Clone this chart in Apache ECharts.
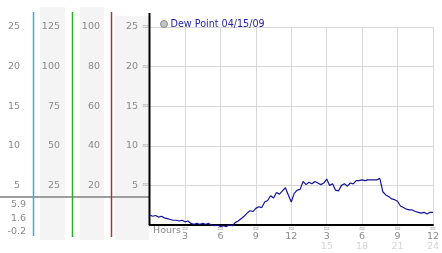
<!DOCTYPE html>
<html><head><meta charset="utf-8">
<script src="https://cdn.jsdelivr.net/npm/echarts@6/dist/echarts.min.js"></script>
<style>html,body{margin:0;padding:0;background:#fff}#c{width:442px;height:253px}</style>
</head><body><div id="c"></div>
<script>
// ---- data ----
const seriesName = 'Dew Point 04/15/09';
const stepHours = 0.25; // one reading every 15 minutes, 00:00 .. 24:00
const dewPoint = [
 1.3,1.1,1.2,1.0,1.1,0.9,0.8,0.7,0.6,0.6,0.5,0.6,
 0.4,0.5,0.2,0.1,0.2,0.1,0.2,0.1,0.2,0.0,-0.1,0.0,
 -0.2,-0.1,-0.2,0.0,-0.1,0.3,0.5,0.8,1.1,1.5,1.8,1.7,
 2.1,2.3,2.2,2.9,3.1,3.7,3.4,4.1,3.9,4.3,4.7,3.8,
 2.9,4.0,4.4,4.5,5.5,5.1,5.4,5.2,5.5,5.3,5.1,5.3,
 5.8,5.0,5.2,4.4,4.3,5.0,5.2,4.9,5.3,5.2,5.6,5.6,
 5.7,5.6,5.7,5.7,5.7,5.7,5.9,4.2,3.8,3.6,3.3,3.2,
 3.0,2.4,2.2,2.0,1.9,1.9,1.7,1.6,1.5,1.6,1.4,1.6,1.6
];
const scaleCol1 = {max:25, step:5};   // left column (same units)
const scaleCol2 = {max:125, step:25};
const scaleCol3 = {max:100, step:20};
const scaleMain = {max:25, step:5};
const stats = ['5.9','1.6','-0.2']; // max, current, min
const xTitle = 'Hours';

// ---- chart ----
const FONT = 'DejaVu Sans';
const LBL = '#8a8a8a';
const MARK = '#a0a0a0';
const chart = echarts.init(document.getElementById('c'), null, {renderer:'canvas'});
const points = dewPoint.map((v,i)=>[i*stepHours, v]);

const gridLeft = 149.6, gridTop = 27, gridBottom = 28, gridRight = 3.6;
const axisX = gridLeft;
function sideAxis(scale, labelRight){
  return {
    type:'value', position:'left', min:0, max:scale.max, interval:scale.step,
    offset: axisX - labelRight, axisLine:{show:false}, axisTick:{show:false},
    splitLine:{show:false},
    axisLabel:{margin:0, color:LBL, fontFamily:FONT, fontSize:9.5,
      formatter:v=> v===0 ? '' : String(v)}
  };
}

chart.setOption({
  animation:false,
  backgroundColor:'#fff',
  legend:{
    data:[seriesName], left:155, top:14, icon:'circle', itemWidth:7, itemHeight:7, itemGap:2,
    itemStyle:{color:'#c4c4c4', borderColor:'#8a8a8a', borderWidth:1},
    textStyle:{color:'#2424a8', fontFamily:FONT, fontSize:9.6, padding:[0,0,0,-2]}
  },
  grid:{left:gridLeft, right:gridRight, top:gridTop, bottom:gridBottom, containLabel:false},
  xAxis:{
    type:'value', min:0, max:24, interval:3,
    axisLine:{show:true, lineStyle:{color:'#000', width:2}},
    axisTick:{show:false},
    splitLine:{show:true, lineStyle:{color:'#d8d8d8', width:1}},
    axisLabel:{
      margin:1, fontFamily:FONT,
      showMinLabel:false,
      formatter:v=>{
        if(v===0) return '';
        if(v<=12) return '{m|≈}\n{v|'+v+'}';
        return '{m|≈}\n{v|'+(v-12)+'}\n{s|'+v+'}';
      },
      rich:{
        m:{fontSize:8, color:MARK, lineHeight:6, fontFamily:FONT},
        v:{fontSize:9.5, color:LBL, lineHeight:10, fontFamily:FONT},
        s:{fontSize:9.5, color:'#d4d4d4', lineHeight:10, fontFamily:FONT}
      }
    }
  },
  yAxis:[
    {
      type:'value', min:0, max:scaleMain.max, interval:scaleMain.step,
      axisLine:{show:false}, axisTick:{show:false},
      splitLine:{show:true, lineStyle:{color:'#d8d8d8', width:1}},
      axisLabel:{margin:1, fontFamily:FONT,
        formatter:v=> v===0 ? '' : '{v|'+v+'} {m|≈}',
        rich:{ v:{fontSize:9.5, color:LBL, fontFamily:FONT}, m:{fontSize:8, color:MARK, fontFamily:FONT} }
      }
    },
    sideAxis(scaleCol3, 100),
    sideAxis(scaleCol2, 60),
    sideAxis(scaleCol1, 20)
  ],
  series:[{
    name:seriesName, type:'line', data:points, showSymbol:false, clip:false,
    lineStyle:{color:'#14149c', width:1.2}, itemStyle:{color:'#14149c'}, z:5
  }],
  graphic:[
    {type:'rect', z:-10, shape:{x:40, y:7, width:25, height:233}, style:{fill:'#f4f4f4'}},
    {type:'rect', z:-10, shape:{x:80, y:7, width:24, height:233}, style:{fill:'#f4f4f4'}},
    {type:'rect', z:-10, shape:{x:115, y:16, width:34, height:224}, style:{fill:'#f4f4f4'}},
    {type:'line', z:1, shape:{x1:0, y1:197, x2:149, y2:197}, style:{stroke:'#9e9e9e', lineWidth:2}},
    {type:'line', z:2, shape:{x1:33.5, y1:12, x2:33.5, y2:236}, style:{stroke:'#34b0cc', lineWidth:1.5}},
    {type:'line', z:2, shape:{x1:72.5, y1:12, x2:72.5, y2:237}, style:{stroke:'#34a434', lineWidth:1.5}},
    {type:'line', z:2, shape:{x1:111.5, y1:12, x2:111.5, y2:237}, style:{stroke:'#b03030', lineWidth:1.5}},
    {type:'line', z:3, shape:{x1:149.5, y1:13, x2:149.5, y2:225}, style:{stroke:'#000', lineWidth:2}},
    {type:'text', x:153, y:231, style:{text:xTitle, fill:LBL, font:'9.5px "DejaVu Sans"', textVerticalAlign:'middle'}},
    {type:'text', x:26, y:205, style:{text:stats[0], fill:LBL, font:'9.5px "DejaVu Sans"', textAlign:'right', textVerticalAlign:'middle'}},
    {type:'text', x:26, y:219, style:{text:stats[1], fill:LBL, font:'9.5px "DejaVu Sans"', textAlign:'right', textVerticalAlign:'middle'}},
    {type:'text', x:26, y:232, style:{text:stats[2], fill:LBL, font:'9.5px "DejaVu Sans"', textAlign:'right', textVerticalAlign:'middle'}}
  ]
});
</script></body></html>
